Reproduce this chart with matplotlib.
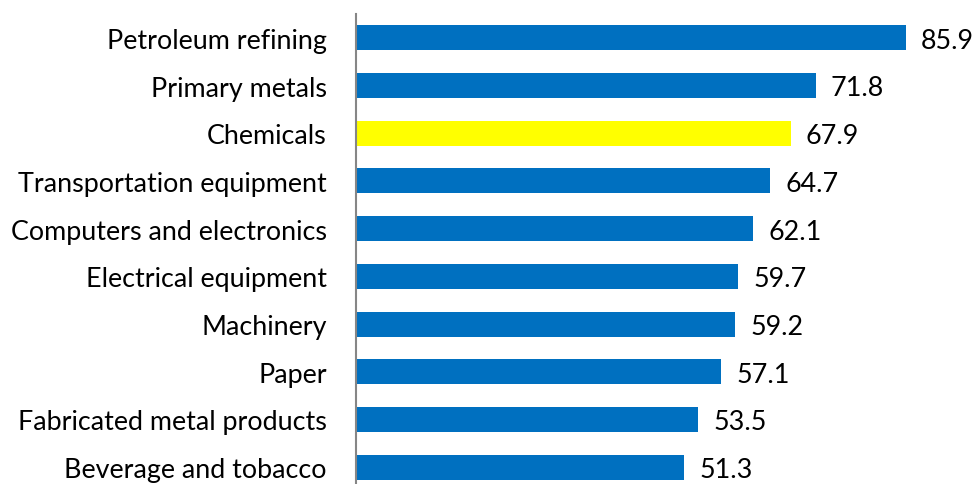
import matplotlib.pyplot as plt

categories = ['Petroleum refining', 'Primary metals', 'Chemicals', 'Transportation equipment',
              'Computers and electronics', 'Electrical equipment', 'Machinery', 'Paper',
              'Fabricated metal products', 'Beverage and tobacco']
values = [85.9, 71.8, 67.9, 64.7, 62.1, 59.7, 59.2, 57.1, 53.5, 51.3]
highlight = 'Chemicals'

plt.rcParams['font.family'] = ['Lato', 'DejaVu Sans']

fig = plt.figure(figsize=(9.76, 4.85), dpi=100)
ax = fig.add_axes([356 / 976, -7 / 485, 620 / 976, 477 / 485])

colors = ['#FFFF00' if c == highlight else '#0070C0' for c in categories]
pos = list(range(len(categories)))
ax.barh(pos, values, height=0.525, color=colors)
ax.set_ylim(len(categories) - 0.5, -0.5)
ax.set_xlim(0, 620 / 6.4)

ax.set_yticks(pos)
ax.set_yticklabels(categories, fontsize=19.4, color='#000000')
ax.tick_params(axis='y', length=0, pad=21)
ax.set_xticks([])

for i, v in enumerate(values):
    ax.text(v + 2.4, i + 0.05, f'{v:.1f}', va='center', ha='left', fontsize=19.4)

for s in ['top', 'right', 'bottom']:
    ax.spines[s].set_visible(False)
ax.spines['left'].set_color('#868686')
ax.spines['left'].set_linewidth(1.5)

fig.savefig('out.png', dpi=100)
